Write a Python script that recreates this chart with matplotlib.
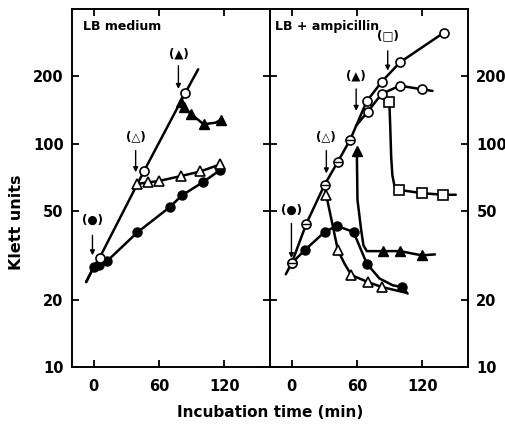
import numpy as np
import matplotlib
matplotlib.use('Agg')
import matplotlib.pyplot as plt

plt.rcParams['font.family'] = ['DejaVu Sans']

# ---- LB medium panel ----
# control culture (filled circles)
lb_ctrl_t = [0, 5, 12, 40, 70, 81, 100, 116]
lb_ctrl_y = [28, 28.5, 29.7, 40, 52, 58.6, 67, 76]
lb_ctrl_line_t = [-7, 0, 5, 12, 40, 70, 81, 100, 116]
lb_ctrl_line_y = [24, 28, 28.5, 29.7, 40, 52, 58.6, 67, 76]
# growing culture (open circles)
lb_grow_t = [5.5, 46, 84]
lb_grow_y = [30.9, 75, 168]
lb_grow_line_t = [-7, 0, 5.5, 46, 84, 96]
lb_grow_line_y = [24, 28, 30.9, 75, 168, 215]
# shifted at open-triangle arrow
lb_otri_t = [40, 50, 60, 80, 98, 116]
lb_otri_y = [66, 67, 68, 71.5, 75, 80.6]
# shifted at filled-triangle arrow
lb_ftri_t = [80, 83, 89, 101, 117]
lb_ftri_y = [153, 145, 136, 122, 128]
lb_ftri_line_t = [80, 83, 89, 101, 112, 117]
lb_ftri_line_y = [153, 145, 136, 122, 124, 128]

# ---- LB + ampicillin panel ----
amp_grow_t = [0, 13.4, 30.2, 42.4, 53.7, 68.9, 82.7, 99.5, 140]
amp_grow_y = [29.2, 43.8, 65.4, 83, 104, 154.5, 189, 231, 314]
amp_grow_line_t = [-5.5] + amp_grow_t
amp_grow_line_y = [26] + amp_grow_y
amp_plat_t = [69.9, 82.7, 99.5, 119.3]
amp_plat_y = [139, 167, 181.5, 175]
amp_plat_line_t = [59, 69.9, 82.7, 99.5, 119.3, 129.4]
amp_plat_line_y = [120, 139, 167, 181.5, 175, 172]
amp_sq_t = [89.7, 98.9, 119.3, 138.6]
amp_sq_y = [153, 62, 60, 59]
amp_sq_line_t = [89.7, 90.5, 91.4, 92.5, 94.3, 98.9, 119.3, 138.6, 150.8]
amp_sq_line_y = [153, 120, 87, 72, 65, 62, 60, 59, 59]
amp_ftri_t = [59.8, 83.6, 99.5, 119.3]
amp_ftri_y = [93, 33, 33, 31.6]
amp_ftri_line_t = [59.8, 60.4, 63.8, 65.9, 69, 83.6, 99.5, 119.3, 131.6]
amp_ftri_line_y = [93, 56, 41, 35, 33, 33, 33, 31.6, 31.9]
amp_fc_t = [0, 11.9, 30.2, 41.5, 56.8, 69, 101.4]
amp_fc_y = [29.2, 33.3, 40.2, 42.8, 40.2, 29, 22.8]
amp_fc_line_t = [0, 11.9, 30.2, 41.5, 56.8, 69, 80.6, 92.8, 101.4, 106.5]
amp_fc_line_y = [29.2, 33.3, 40.2, 42.8, 40.2, 29, 24.9, 23.2, 22.8, 21.3]
amp_otri_t = [31.8, 42.4, 54.7, 69.9, 82.7]
amp_otri_y = [58.6, 33.3, 25.8, 24, 22.8]
amp_otri_line_t = [30.2, 31.8, 42.4, 48.5, 54.7, 69.9, 82.7, 105]
amp_otri_line_y = [65.4, 58.6, 33.3, 29, 25.8, 24, 22.8, 21.5]

# arrows: (label, x, label y, arrow tail y, arrow tip y)
lb_arrows = [('(●)', -1.2, 42.3, 38.8, 31.6),
             ('(△)', 38.5, 100, 93, 74.4),
             ('(▲)', 77.8, 235, 223, 175.5)]
amp_arrows = [('(●)', -0.3, 46.9, 43.9, 30.7),
              ('(△)', 31.8, 100, 93, 73.5),
              ('(▲)', 59.2, 188, 175.5, 140),
              ('(□)', 88.2, 283, 260, 212)]

yticks = [10, 20, 50, 100, 200]
xticks = [0, 60, 120]

lw = 1.8
ms = 6.5
fig = plt.figure(figsize=(5.06, 4.25), dpi=100)
ax1 = fig.add_axes([0.1423, 0.1365, 0.3913, 0.8423])
ax2 = fig.add_axes([0.5336, 0.1365, 0.3913, 0.8423])


def openmk(ax, t, y, marker):
    ax.plot(t, y, linestyle='none', marker=marker, ms=ms, mfc='white',
            mec='black', mew=1.2, zorder=4)


def fillmk(ax, t, y, marker):
    ax.plot(t, y, linestyle='none', marker=marker, ms=ms, mfc='black',
            mec='black', mew=1.0, zorder=4)


def curve(ax, t, y):
    ax.plot(t, y, color='black', lw=lw, zorder=3, solid_capstyle='round')


# left panel
curve(ax1, lb_ctrl_line_t, lb_ctrl_line_y)
curve(ax1, lb_grow_line_t, lb_grow_line_y)
curve(ax1, lb_otri_t, lb_otri_y)
curve(ax1, lb_ftri_line_t, lb_ftri_line_y)
fillmk(ax1, lb_ctrl_t, lb_ctrl_y, 'o')
openmk(ax1, lb_otri_t, lb_otri_y, '^')
fillmk(ax1, lb_ftri_t, lb_ftri_y, '^')
openmk(ax1, lb_grow_t, lb_grow_y, 'o')

# right panel
curve(ax2, amp_grow_line_t, amp_grow_line_y)
curve(ax2, amp_plat_line_t, amp_plat_line_y)
curve(ax2, amp_sq_line_t, amp_sq_line_y)
curve(ax2, amp_ftri_line_t, amp_ftri_line_y)
curve(ax2, amp_fc_line_t, amp_fc_line_y)
curve(ax2, amp_otri_line_t, amp_otri_line_y)
fillmk(ax2, amp_fc_t, amp_fc_y, 'o')
fillmk(ax2, amp_ftri_t, amp_ftri_y, '^')
openmk(ax2, amp_otri_t, amp_otri_y, '^')
openmk(ax2, amp_sq_t, amp_sq_y, 's')
openmk(ax2, amp_plat_t, amp_plat_y, 'o')
openmk(ax2, amp_grow_t, amp_grow_y, 'o')
ax2.plot(amp_grow_t[:5], amp_grow_y[:5], linestyle='none', marker='_',
         ms=ms - 1, mec='black', mew=1.0, zorder=5)

for ax, arrows in ((ax1, lb_arrows), (ax2, amp_arrows)):
    for lab, x, ly, y0, y1 in arrows:
        ax.annotate('', xy=(x, y1), xytext=(x, y0),
                    arrowprops=dict(arrowstyle='-|>', lw=1.0, color='black',
                                    mutation_scale=7, shrinkA=0, shrinkB=0))
        ax.text(x, ly, lab, ha='center', va='bottom', fontsize=8.5,
                fontweight='bold')

for ax in (ax1, ax2):
    ax.set_yscale('log')
    ax.set_xlim(-20, 162)
    ax.set_ylim(10, 400)
    ax.set_yticks(yticks)
    ax.yaxis.set_minor_locator(matplotlib.ticker.NullLocator())
    ax.set_xticks(xticks)
    ax.tick_params(direction='in', length=5, width=1.3, top=True, bottom=True,
                   left=True, right=True, labelsize=10.5, pad=6)
    ax.tick_params(axis='x', pad=9)
    for s in ax.spines.values():
        s.set_linewidth(1.4)

ax1.set_yticklabels([str(v) for v in yticks])
ax2.tick_params(labelleft=False, labelright=True)
ax2.set_yticklabels([str(v) for v in yticks])
for ax in (ax1, ax2):
    for lab in ax.get_xticklabels() + ax.get_yticklabels():
        lab.set_fontweight('bold')

ax1.text(0.055, 0.95, 'LB medium', transform=ax1.transAxes, fontsize=9,
         fontweight='bold', va='center')
ax2.text(0.025, 0.95, 'LB + ampicillin', transform=ax2.transAxes, fontsize=9,
         fontweight='bold', va='center')

ax1.set_ylabel('Klett units', fontsize=11.5, fontweight='bold')
ax1.yaxis.set_label_coords(-0.24, 0.405)
fig.text(0.533, 0.012, 'Incubation time (min)', ha='center', va='bottom',
         fontsize=11, fontweight='bold')

fig.savefig('out.png', dpi=100)
